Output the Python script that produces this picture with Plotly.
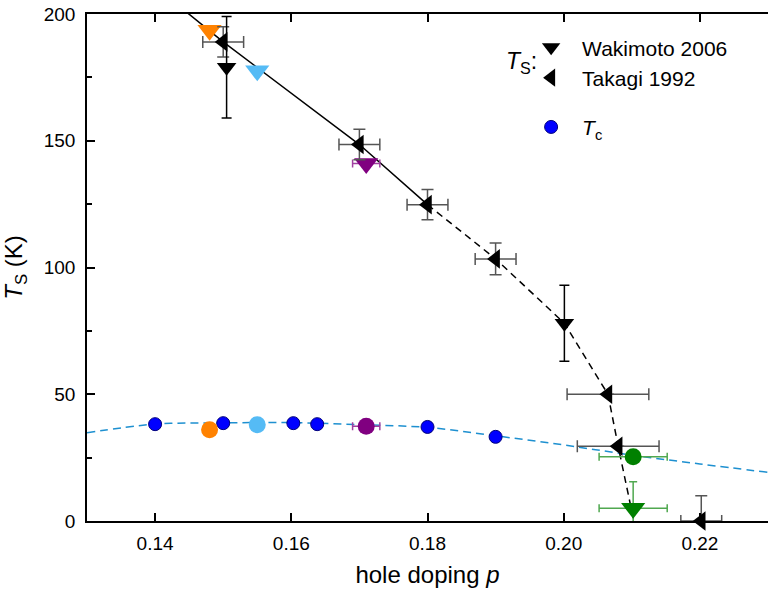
import plotly.graph_objects as go

# ---------------- data ----------------
# Takagi 1992 (T_S, left triangles)
tak_p = [0.150, 0.170, 0.180, 0.190, 0.2065, 0.208, 0.2202]
tak_T = [189.0, 148.5, 124.8, 103.4, 50.0, 29.5, 0.0]
tak_perr = [0.003, 0.003, 0.003, 0.003, 0.006, 0.006, 0.003]
tak_Terr = [6.0, 6.0, 6.0, 6.3, 0.0, 0.0, 10.0]

# Wakimoto 2006 (T_S, down triangles)
wak_p = [0.1505, 0.2001]
wak_T = [179.0, 78.0]
wak_Terr = [20.0, 15.0]

# Tc (blue circles)
tc_p = [0.140, 0.150, 0.1603, 0.1638, 0.180, 0.190]
tc_T = [38.2, 38.6, 38.6, 38.2, 37.1, 33.2]

# coloured samples (T_S triangles and Tc circles)
col_p = [0.148, 0.155, 0.171, 0.2102]
col_Ts = [193.6, 177.6, 141.0, 5.0]
col_Tc = [36.0, 38.0, 37.4, 25.3]
col_perr = [0.0, 0.0, 0.002, 0.005]
col_Tserr = [0.0, 0.0, 0.0, 10.5]
col_colors = ["#FF8200", "#55BBF5", "#800080", "#008000"]
col_errcolors = ["#FF8200", "#55BBF5", "#A040A0", "#50A850"]

# guide-to-the-eye lines
solid_p = [0.1445, 0.150, 0.170, 0.180]
solid_T = [201.0, 189.0, 148.5, 124.8]
dash_p = [0.180, 0.190, 0.2001, 0.2065, 0.208, 0.2103]
dash_T = [124.8, 103.4, 78.0, 50.0, 29.5, 0.0]

# Tc fit curve (dashed blue)
fit_p = [0.130, 0.140, 0.150, 0.160, 0.170, 0.180, 0.190, 0.200, 0.210, 0.220, 0.230]
fit_T = [34.8, 38.2, 38.7, 38.8, 38.0, 36.9, 33.6, 30.0, 26.0, 22.5, 19.2]

x_ticks = [0.14, 0.16, 0.18, 0.20, 0.22]
x_ticklabels = ["0.14", "0.16", "0.18", "0.20", "0.22"]
y_ticks = [0, 50, 100, 150, 200]

FONT = "Liberation Sans, Arial, sans-serif"

fig = go.Figure()

fig.add_trace(go.Scatter(x=fit_p, y=fit_T, mode="lines", line=dict(color="#1E90D0", width=1.5, dash="8px,5px", shape="spline"),
                         showlegend=False, hoverinfo="skip"))
fig.add_trace(go.Scatter(x=solid_p, y=solid_T, mode="lines", line=dict(color="black", width=1.5),
                         showlegend=False, hoverinfo="skip"))
fig.add_trace(go.Scatter(x=dash_p, y=dash_T, mode="lines", line=dict(color="black", width=1.5, dash="7px,5px"),
                         showlegend=False, hoverinfo="skip"))

# Tc blue circles
fig.add_trace(go.Scatter(x=tc_p, y=tc_T, mode="markers", name="<i>T</i><sub>c</sub>", legendgroup="tc", legendrank=3,
                         marker=dict(symbol="circle", size=13, color="#0000FF", line=dict(color="#00007A", width=1)),
                         cliponaxis=False))

# coloured samples
for p, ts, tc, pe, te, c, ec in zip(col_p, col_Ts, col_Tc, col_perr, col_Tserr, col_colors, col_errcolors):
    fig.add_trace(go.Scatter(x=[p], y=[tc], mode="markers", showlegend=False,
                             marker=dict(symbol="circle", size=17, color=c),
                             error_x=dict(type="data", array=[pe], color=ec, thickness=1.5, width=4, visible=pe > 0),
                             cliponaxis=False))
    fig.add_trace(go.Scatter(x=[p], y=[ts], mode="markers", showlegend=False,
                             marker=dict(symbol="triangle-down", size=21, color=c),
                             error_x=dict(type="data", array=[pe], color=ec, thickness=1.5, width=4, visible=pe > 0),
                             error_y=dict(type="data", array=[te], color=ec, thickness=1.5, width=4, visible=te > 0),
                             cliponaxis=False))

# Takagi
fig.add_trace(go.Scatter(x=tak_p, y=tak_T, mode="markers", name="Takagi 1992", legendgroup="ts", legendrank=2,
                         marker=dict(symbol="triangle-left", size=17, color="black"),
                         error_x=dict(type="data", array=tak_perr, color="#555555", thickness=1.5, width=6),
                         error_y=dict(type="data", array=tak_Terr, color="#555555", thickness=1.5, width=6),
                         cliponaxis=False))
# Wakimoto
fig.add_trace(go.Scatter(x=wak_p, y=wak_T, mode="markers", name="Wakimoto 2006", legendgroup="ts", legendrank=1,
                         marker=dict(symbol="triangle-down", size=17, color="black"),
                         error_y=dict(type="data", array=wak_Terr, color="black", thickness=1.5, width=5),
                         cliponaxis=False))

fig.add_annotation(text="<i>T</i><sub>S</sub>:", xref="paper", yref="paper", x=0.638, y=0.905,
                   xanchor="center", yanchor="middle",
                   showarrow=False, font=dict(family=FONT, size=23, color="black"))

fig.update_layout(
    width=768, height=593,
    margin=dict(l=87, r=0, t=14, b=72),
    paper_bgcolor="white", plot_bgcolor="white",
    font=dict(family=FONT, size=19, color="black"),
    legend=dict(x=0.636, y=0.974, xanchor="left", yanchor="top", traceorder="grouped",
                tracegroupgap=19, itemwidth=52, font=dict(family=FONT, size=21, color="black"),
                bgcolor="rgba(0,0,0,0)"),
    xaxis=dict(range=[0.13, 0.23], tickvals=x_ticks, ticktext=x_ticklabels, ticks="inside", ticklen=8,
               tickwidth=1.5, tickcolor="black", showline=True, linecolor="black", linewidth=1.5,
               mirror="allticks", showgrid=False, zeroline=False, automargin=False,
               ticklabelstandoff=4,
               title=dict(text="hole doping <i>p</i>", font=dict(family=FONT, size=24), standoff=14)),
    yaxis=dict(range=[0, 200], tickvals=y_ticks, ticks="inside", ticklen=8, tickwidth=1.5, tickcolor="black",
               showline=True, linecolor="black", linewidth=1.5, showgrid=False, zeroline=False, automargin=False,
               minor=dict(dtick=25, ticks="inside", ticklen=5, tickwidth=1.5, tickcolor="black"),
               ticklabelstandoff=6,
               title=dict(text="<i>T</i><sub>S</sub> (K)", font=dict(family=FONT, size=24), standoff=16)),
)

fig.write_html("out.html", config={"displayModeBar": False},
               post_script="document.body.style.margin='0px';")
